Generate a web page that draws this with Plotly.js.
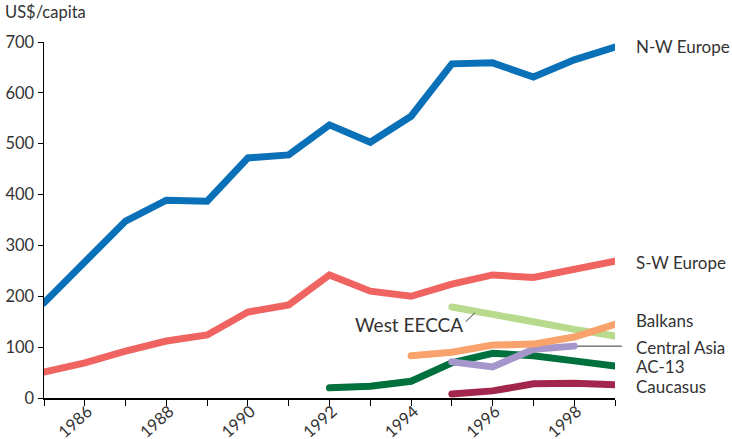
<!DOCTYPE html>
<html><head><meta charset="utf-8">
<script src="https://cdn.plot.ly/plotly-3.0.1.min.js"></script>
<style>
html,body{margin:0;padding:0;background:#fff;}
#chart{width:732px;height:439px;}
.js-line{stroke-linecap:round;}
</style></head>
<body><div id="chart"></div>
<script>
const years = [1985,1986,1987,1988,1989,1990,1991,1992,1993,1994,1995,1996,1997,1998,1999];
const nwEurope = [187,267,348,389,387,472,478,537,503,554,657,659,631,665,690];
const swEurope = [51,69,92,112,124,169,183,242,210,200,224,242,237,252,269];
const westEeccaYears = [1995,1996,1997,1998,1999];
const westEecca = [179,163,150,135,122];
const balkansYears = [1994,1995,1996,1997,1998,1999];
const balkans = [83,90,104,106,120,145];
const ac13Years = [1992,1993,1994,1995,1996,1997,1998,1999];
const ac13 = [20,23,33,69,88,83,73,63];
const centralAsiaYears = [1995,1996,1997,1998];
const centralAsia = [71,61,96,102];
const caucasusYears = [1995,1996,1997,1998,1999];
const caucasus = [8,14,28,29,26];
const tickYears = [1985,1986,1987,1988,1989,1990,1991,1992,1993,1994,1995,1996,1997,1998,1999];
const tickLabels = ['','1986','','1988','','1990','','1992','','1994','','1996','','1998',''];
const seriesLabels = ['N-W Europe','S-W Europe','Balkans','Central Asia','AC-13','Caucasus'];
const labelY = [692,267,153,100,61,22];

function tr(x,y,color,w){return {x:x,y:y,type:'scatter',mode:'lines',line:{color:color,width:w},hoverinfo:'skip',showlegend:false};}
const data = [
  tr(years,nwEurope,'#0a70b8',7),
  tr(years,swEurope,'#ef6461',7),
  tr(westEeccaYears,westEecca,'#b7da8c',7),
  tr(ac13Years,ac13,'#00703c',7),
  tr(centralAsiaYears,centralAsia,'#a597cc',7),
  tr(balkansYears,balkans,'#f9a26c',7),
  tr(caucasusYears,caucasus,'#a3264d',7)
];
const fam = 'Lato, "Open Sans", sans-serif';
const font = {family:fam, size:17, color:'#333'};
const annotations = seriesLabels.map((t,i)=>({xref:'paper',yref:'y',x:1.034,y:labelY[i],text:t,showarrow:false,xanchor:'left',yanchor:'middle',font:font}));
annotations.push({xref:'x',yref:'y',x:1995.32,y:145,text:'West EECCA',showarrow:false,xanchor:'right',yanchor:'middle',font:{family:fam,size:19,color:'#333'}});
annotations.push({xref:'paper',yref:'paper',x:-0.071,y:1.085,text:'US$/capita',showarrow:false,xanchor:'left',yanchor:'middle',font:{family:fam,size:16.5,color:'#333'}});
const layout = {
  width:732,height:439,
  margin:{l:44,r:117,t:42,b:41},
  paper_bgcolor:'#fff',plot_bgcolor:'#fff',
  font:font,
  xaxis:{range:[1985,1999],tickvals:tickYears,ticktext:tickLabels,tickangle:-42,ticks:'outside',ticklen:6,tickcolor:'#000',showline:true,linecolor:'#000',linewidth:1.5,showgrid:false,zeroline:false,fixedrange:true,ticklabelstandoff:-10,ticklabelshift:3,tickfont:{family:fam,size:16.5,color:'#333'}},
  yaxis:{range:[0,700],tickvals:[0,100,200,300,400,500,600,700],ticks:'outside',ticklen:5,tickcolor:'#000',showline:true,linecolor:'#000',linewidth:1.5,showgrid:false,zeroline:false,fixedrange:true,tickfont:{family:fam,size:16.5,color:'#333'}},
  shapes:[
    {type:'line',xref:'x',yref:'y',x0:1995.34,y0:150,x1:1995.56,y1:167,line:{color:'#333',width:1}},
    {type:'line',xref:'paper',yref:'y',x0:0.93,y0:102,x1:1.012,y1:102,line:{color:'#333',width:1},layer:'below'}
  ],
  annotations:annotations
};
Plotly.newPlot('chart',data,layout,{displayModeBar:false,staticPlot:true});
</script></body></html>
